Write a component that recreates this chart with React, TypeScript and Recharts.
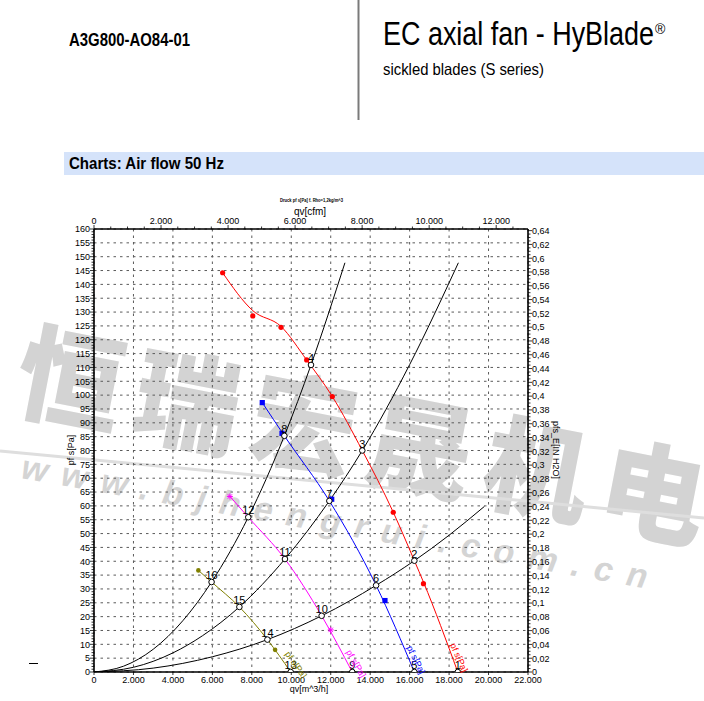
import React from "react";
import {
  ComposedChart,
  Line,
  XAxis,
  YAxis,
  CartesianGrid,
  LabelList,
} from "recharts";

const PA_PER_INH2O = 249.089;
const M3H_PER_CFM = 1.699;
const Q_MAX = 22000;
const PA_MAX = 160;

// fan curve, highest speed (red)
const redQ = [6520, 8050, 9480, 10780, 12080, 13600, 15170, 16240, 16700, 18440];
const redP = [144.2, 130.5, 124.8, 112.7, 99.5, 80, 57.7, 40.2, 32.5, 0];
const redMarkQ = [6520, 8050, 9480, 10780, 12080, 15170, 16700];
const redMarkP = [144.2, 128.6, 124.5, 112.7, 99.5, 57.7, 31.9];

// blue
const blueQ = [8530, 9650, 11930, 14300, 16240];
const blueP = [97.3, 85.3, 61.8, 31.3, 0];
const blueMarkQ = [8530, 9530, 12050, 14750];
const blueMarkP = [97.3, 86.2, 62.4, 25.8];

// magenta
const magentaQ = [6890, 7820, 9680, 11540, 13090];
const magentaP = [63.4, 55.9, 40.8, 20.3, 0];
const magentaMarkQ = [6890, 12000];
const magentaMarkP = [63.4, 15.2];

// olive
const oliveQ = [5290, 5960, 7370, 8790, 9970];
const oliveP = [36.7, 32.5, 23.5, 11.7, 0];
const oliveMarkQ = [5290, 9180];
const oliveMarkP = [36.7, 8.0];

// system curves (black)
const sys1Q = [0, 1500, 3000, 4500, 5960, 7820, 9650, 11000, 12720];
const sys1P = [0, 2.1, 8.2, 18.5, 32.5, 55.9, 85.3, 110.9, 147.8];
const sys2Q = [0, 2000, 4000, 5500, 7370, 9680, 11930, 13600, 16000, 18470];
const sys2P = [0, 1.7, 6.9, 13.1, 23.5, 40.8, 61.8, 80, 111, 147.8];
const sys3Q = [0, 3000, 6000, 8790, 11540, 14300, 16240, 18000, 19790];
const sys3P = [0, 1.4, 5.5, 11.7, 20.3, 31.3, 40.2, 49.4, 59.8];

// operating points
const opN = [1, 2, 3, 4, 5, 6, 7, 8, 9, 10, 11, 12, 13, 14, 15, 16];
const opQ = [18440, 16240, 13600, 11000, 16240, 14300, 11930, 9650, 13090, 11540, 9680, 7820, 9970, 8790, 7370, 5960];
const opP = [0, 40.2, 80, 110.9, 0, 31.3, 61.8, 85.3, 0, 20.3, 40.8, 55.9, 0, 11.7, 23.5, 32.5];

// "pf s[Pa]" tags at the foot of each fan curve
const tagQ = [18500, 16320, 13280, 10240];
const tagP = [5.2, 4.4, 3.0, 2.6];
const tagColor = ["#ff0000", "#0000ff", "#ff00ff", "#808000"];
const tagAngle = [66, 64, 60, 55];

// axis ticks
const qTicks = [0, 2000, 4000, 6000, 8000, 10000, 12000, 14000, 16000, 18000, 20000, 22000];
const cfmTicks = [0, 2000, 4000, 6000, 8000, 10000, 12000];
const paTicks = [0, 5, 10, 15, 20, 25, 30, 35, 40, 45, 50, 55, 60, 65, 70, 75, 80, 85, 90, 95, 100, 105, 110, 115, 120, 125, 130, 135, 140, 145, 150, 155, 160];
const inTicks = [0, 0.02, 0.04, 0.06, 0.08, 0.1, 0.12, 0.14, 0.16, 0.18, 0.2, 0.22, 0.24, 0.26, 0.28, 0.3, 0.32, 0.34, 0.36, 0.38, 0.4, 0.42, 0.44, 0.46, 0.48, 0.5, 0.52, 0.54, 0.56, 0.58, 0.6, 0.62, 0.64];

// minor tick ladders
const paMinor = Array.from({ length: PA_MAX + 1 }, (_, i) => i);
const inMinor = Array.from({ length: 129 }, (_, i) => i / 200);
const cfmMinor = Array.from({ length: 26 }, (_, i) => i * 500);

const zip = (q: number[], p: number[]) => q.map((v, i) => ({ q: v, p: p[i] }));

const redLine = zip(redQ, redP);
const redMarks = zip(redMarkQ, redMarkP);
const blueLine = zip(blueQ, blueP);
const blueMarks = zip(blueMarkQ, blueMarkP);
const magentaLine = zip(magentaQ, magentaP);
const magentaMarks = zip(magentaMarkQ, magentaMarkP);
const oliveLine = zip(oliveQ, oliveP);
const oliveMarks = zip(oliveMarkQ, oliveMarkP);
const sys1 = zip(sys1Q, sys1P);
const sys2 = zip(sys2Q, sys2P);
const sys3 = zip(sys3Q, sys3P);
const opPoints = opQ.map((q, i) => ({ q, p: opP[i], n: opN[i] }));
const tags = tagQ.map((q, i) => ({ q, p: tagP[i], c: tagColor[i], a: tagAngle[i] }));

const W = 600;
const H = 520;
const PLOT_L = 94;
const PLOT_R = 528;
const PLOT_T = 49;
const PLOT_B = 492;
const FONT = "'Liberation Sans', Arial, sans-serif";

function fmtThousands(v: number): string {
  if (v < 1000) return String(v);
  return `${Math.floor(v / 1000)}.${String(v % 1000).padStart(3, "0")}`;
}

function fmtComma(v: number): string {
  return String(Number(v.toFixed(3))).replace(".", ",");
}

const PaTick = (props: any) => {
  const { y, payload } = props;
  const v = payload.value as number;
  const major = paTicks.includes(v);
  return (
    <g>
      <line x1={PLOT_L - (major ? 4 : 2.5)} x2={PLOT_L} y1={y} y2={y} stroke="#000" strokeWidth={0.8} />
      {major && (
        <text x={PLOT_L - 4} y={y} dy={3.3} textAnchor="end" fontSize={9} fontFamily={FONT} fill="#000">
          {v}
        </text>
      )}
    </g>
  );
};

const InTick = (props: any) => {
  const { y, payload } = props;
  const v = payload.value as number;
  const major = inTicks.some((t) => Math.abs(t - v) < 1e-6);
  return (
    <g>
      <line x1={PLOT_R} x2={PLOT_R + (major ? 4 : 2.5)} y1={y} y2={y} stroke="#000" strokeWidth={0.8} />
      {major && (
        <text x={PLOT_R + 4} y={y} dy={3.3} textAnchor="start" fontSize={9} fontFamily={FONT} fill="#000">
          {fmtComma(v)}
        </text>
      )}
    </g>
  );
};

const BottomTick = (props: any) => {
  const { x, payload } = props;
  const v = payload.value as number;
  return (
    <g>
      <line x1={x} x2={x} y1={PLOT_B} y2={PLOT_B + 3} stroke="#000" strokeWidth={0.8} />
      <text x={x} y={PLOT_B + 11} textAnchor="middle" fontSize={9} fontFamily={FONT} fill="#000">
        {fmtThousands(v)}
      </text>
    </g>
  );
};

const TopTick = (props: any) => {
  const { x, payload } = props;
  const v = payload.value as number;
  const major = cfmTicks.includes(v);
  return (
    <g>
      <line x1={x} x2={x} y1={PLOT_T} y2={PLOT_T - (major ? 4 : 2.5)} stroke="#000" strokeWidth={0.8} />
      {major && (
        <text x={x} y={PLOT_T - 5} textAnchor="middle" fontSize={9} fontFamily={FONT} fill="#000">
          {fmtThousands(v)}
        </text>
      )}
    </g>
  );
};

const RedDot = (props: any) => {
  const { cx, cy, index } = props;
  return <circle key={`r${index}`} cx={cx} cy={cy} r={2.6} fill="#ff0000" />;
};
const BlueDot = (props: any) => {
  const { cx, cy, index } = props;
  return <rect key={`b${index}`} x={cx - 2.6} y={cy - 2.6} width={5.2} height={5.2} fill="#0000ff" />;
};
const MagentaDot = (props: any) => {
  const { cx, cy, index } = props;
  return (
    <g key={`m${index}`} stroke="#ff00ff" strokeWidth={1}>
      <line x1={cx - 3} x2={cx + 3} y1={cy} y2={cy} />
      <line x1={cx} x2={cx} y1={cy - 3} y2={cy + 3} />
      <line x1={cx - 2.2} x2={cx + 2.2} y1={cy - 2.2} y2={cy + 2.2} />
      <line x1={cx - 2.2} x2={cx + 2.2} y1={cy + 2.2} y2={cy - 2.2} />
    </g>
  );
};
const OliveDot = (props: any) => {
  const { cx, cy, index } = props;
  return <circle key={`o${index}`} cx={cx} cy={cy} r={2.3} fill="#808000" />;
};
const OpDot = (props: any) => {
  const { cx, cy, index } = props;
  return <circle key={`p${index}`} cx={cx} cy={cy} r={2.8} fill="#fff" stroke="#000" strokeWidth={1} />;
};

const TagLabel = (props: any) => {
  const { x, y, index } = props;
  const t = tags[index];
  if (!t) return null;
  return (
    <text
      key={`t${index}`}
      x={x}
      y={y}
      transform={`rotate(${t.a} ${x} ${y})`}
      textAnchor="middle"
      dominantBaseline="central"
      fontSize={9}
      fontFamily={FONT}
      fill={t.c}
    >
      pf s[Pa]
    </text>
  );
};

const common = {
  xAxisId: "b",
  yAxisId: "pa",
  isAnimationActive: false,
  activeDot: false,
  legendType: "none" as const,
  dataKey: "p",
};

function Chart() {
  return (
    <ComposedChart width={W} height={H} margin={{ top: 0, right: 0, bottom: 0, left: 0 }}>
      <CartesianGrid
        xAxisId="b"
        yAxisId="pa"
        horizontalValues={paTicks}
        verticalValues={qTicks}
        stroke="#5a5a5a"
        strokeDasharray="2.5 4"
        strokeWidth={1}
      />
      <XAxis
        xAxisId="b"
        type="number"
        dataKey="q"
        domain={[0, Q_MAX]}
        ticks={qTicks}
        interval={0}
        allowDataOverflow
        height={H - PLOT_B}
        tickLine={false}
        tick={<BottomTick />}
        axisLine={{ stroke: "#000", strokeWidth: 1.6 }}
      />
      <XAxis
        xAxisId="t"
        orientation="top"
        type="number"
        dataKey="cfm"
        domain={[0, Q_MAX / M3H_PER_CFM]}
        ticks={cfmMinor}
        interval={0}
        allowDataOverflow
        height={PLOT_T}
        tickLine={false}
        tick={<TopTick />}
        axisLine={{ stroke: "#000", strokeWidth: 1.6 }}
      />
      <YAxis
        yAxisId="pa"
        type="number"
        domain={[0, PA_MAX]}
        ticks={paMinor}
        interval={0}
        allowDataOverflow
        width={PLOT_L}
        tickLine={false}
        tick={<PaTick />}
        axisLine={{ stroke: "#000", strokeWidth: 1.6 }}
      />
      <YAxis
        yAxisId="in"
        orientation="right"
        type="number"
        domain={[0, PA_MAX / PA_PER_INH2O]}
        ticks={inMinor}
        interval={0}
        allowDataOverflow
        width={W - PLOT_R}
        tickLine={false}
        tick={<InTick />}
        axisLine={{ stroke: "#000", strokeWidth: 1.6 }}
      />

      {/* system curves */}
      <Line {...common} data={sys1} type="monotone" stroke="#000" strokeWidth={1} dot={false} />
      <Line {...common} data={sys2} type="monotone" stroke="#000" strokeWidth={1} dot={false} />
      <Line {...common} data={sys3} type="monotone" stroke="#000" strokeWidth={1} dot={false} />

      {/* fan curves */}
      <Line {...common} data={redLine} type="monotone" stroke="#ff0000" strokeWidth={1} dot={false} />
      <Line {...common} data={blueLine} type="monotone" stroke="#0000ff" strokeWidth={1} dot={false} />
      <Line {...common} data={magentaLine} type="monotone" stroke="#ff00ff" strokeWidth={1} dot={false} />
      <Line {...common} data={oliveLine} type="monotone" stroke="#808000" strokeWidth={1} dot={false} />

      {/* measured markers */}
      <Line {...common} data={redMarks} stroke="none" dot={RedDot} />
      <Line {...common} data={blueMarks} stroke="none" dot={BlueDot} />
      <Line {...common} data={magentaMarks} stroke="none" dot={MagentaDot} />
      <Line {...common} data={oliveMarks} stroke="none" dot={OliveDot} />

      {/* operating points */}
      <Line {...common} data={opPoints} stroke="none" dot={OpDot}>
        <LabelList dataKey="n" position="top" offset={3} fontSize={11} fontFamily={FONT} fill="#000" />
      </Line>

      {/* curve tags */}
      <Line {...common} data={tags} stroke="none" dot={false} label={TagLabel} />
    </ComposedChart>
  );
}

function Watermark() {
  return (
    <svg width={704} height={701} style={{ position: "absolute", left: 0, top: 0 }}>
      <text
        x={11}
        y={408}
        transform="rotate(11 11 408)"
        fontSize={106}
        fontWeight={900}
        fontFamily="'Noto Sans CJK SC', sans-serif"
        fill="#d3d3d3"
        textLength={700}
        lengthAdjust="spacing"
      >
        恒瑞宏晟机电
      </text>
      <line x1={0} y1={451} x2={704} y2={518} stroke="#dedede" strokeWidth={3} />
      <text
        x={20}
        y={478}
        transform="rotate(10 20 478)"
        fontSize={34}
        fontStyle="italic"
        fontWeight={700}
        fontFamily={FONT}
        fill="#d4d4d4"
        textLength={635}
        lengthAdjust="spacing"
      >
        www.bjhengrui.com.cn
      </text>
    </svg>
  );
}

function Overlay() {
  return (
    <svg width={704} height={701} style={{ position: "absolute", left: 0, top: 0, pointerEvents: "none" }}>
      <text x={69} y={46} fontSize={18} fontWeight={700} fontFamily={FONT} textLength={121} lengthAdjust="spacingAndGlyphs">
        A3G800-AO84-01
      </text>
      <line x1={358.5} x2={358.5} y1={0} y2={120} stroke="#7a7a7a" strokeWidth={2} />
      <text x={383} y={45} fontSize={32.5} fontFamily={FONT} textLength={271} lengthAdjust="spacingAndGlyphs">
        EC axial fan - HyBlade
      </text>
      <text x={655} y={34} fontSize={14} fontFamily={FONT}>
        ®
      </text>
      <text x={383} y={75} fontSize={16.5} fontFamily={FONT} textLength={161} lengthAdjust="spacingAndGlyphs">
        sickled blades (S series)
      </text>
      <rect x={64} y={152} width={640} height={23} fill="#d5e3fa" />
      <text x={69} y={168.5} fontSize={16.3} fontWeight={700} fontFamily={FONT} textLength={155} lengthAdjust="spacingAndGlyphs">
        Charts: Air flow 50 Hz
      </text>

      <text x={280} y={202} fontSize={4.5} fontWeight={700} fontFamily={FONT} textLength={63} lengthAdjust="spacingAndGlyphs">
        Druck pf s[Pa] f. Rho=1,2kg/m^3
      </text>
      <text x={310} y={214.5} fontSize={10} textAnchor="middle" fontFamily={FONT}>
        qv[cfm]
      </text>
      <text x={309} y={692} fontSize={9} textAnchor="middle" fontFamily={FONT}>
        qv[m^3/h]
      </text>
      <text x={71} y={450} fontSize={9} textAnchor="middle" dominantBaseline="central" fontFamily={FONT} transform="rotate(-90 71 450)">
        pf s[Pa]
      </text>
      <text x={556} y={450} fontSize={9} textAnchor="middle" dominantBaseline="central" fontFamily={FONT} transform="rotate(90 556 450)">
        pfs_E[IN H2O]
      </text>
      <line x1={29} x2={38} y1={663.5} y2={663.5} stroke="#000" strokeWidth={1} />
    </svg>
  );
}

export default function App() {
  return (
    <div style={{ position: "absolute", left: 0, top: 0, width: 704, height: 701, background: "#fff", overflow: "hidden" }}>
      <Watermark />
      <div style={{ position: "absolute", left: 0, top: 180 }}>
        <Chart />
      </div>
      <Overlay />
    </div>
  );
}
